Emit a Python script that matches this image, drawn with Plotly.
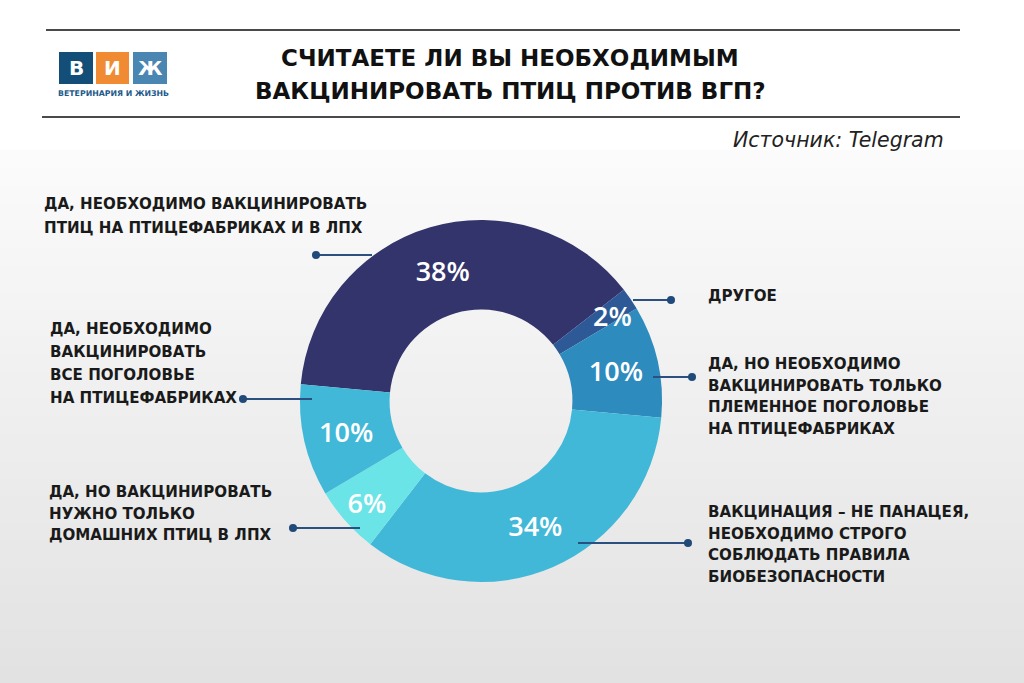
import plotly.graph_objects as go

W, H = 1024, 683

# ---- data ----
categories = [
    "Да, необходимо вакцинировать птиц на птицефабриках и в ЛПХ",
    "Другое",
    "Да, но необходимо вакцинировать только племенное поголовье на птицефабриках",
    "Вакцинация – не панацея, необходимо строго соблюдать правила биобезопасности",
    "Да, но вакцинировать нужно только домашних птиц в ЛПХ",
    "Да, необходимо вакцинировать все поголовье на птицефабриках",
]
values = [38, 2, 10, 34, 6, 10]
slice_colors = ["#32346b", "#2d5a97", "#2e8bbd", "#42b8d8", "#6be4e8", "#42b8d8"]

label_texts = [
    "ДА, НЕОБХОДИМО ВАКЦИНИРОВАТЬ<br>ПТИЦ НА ПТИЦЕФАБРИКАХ И В ЛПХ",
    "ДРУГОЕ",
    "ДА, НО НЕОБХОДИМО<br>ВАКЦИНИРОВАТЬ ТОЛЬКО<br>ПЛЕМЕННОЕ ПОГОЛОВЬЕ<br>НА ПТИЦЕФАБРИКАХ",
    "ВАКЦИНАЦИЯ – НЕ ПАНАЦЕЯ,<br>НЕОБХОДИМО СТРОГО<br>СОБЛЮДАТЬ ПРАВИЛА<br>БИОБЕЗОПАСНОСТИ",
    "ДА, НО ВАКЦИНИРОВАТЬ<br>НУЖНО ТОЛЬКО<br>ДОМАШНИХ ПТИЦ В ЛПХ",
    "ДА, НЕОБХОДИМО<br>ВАКЦИНИРОВАТЬ<br>ВСЕ ПОГОЛОВЬЕ<br>НА ПТИЦЕФАБРИКАХ",
]

title_lines = ["СЧИТАЕТЕ ЛИ ВЫ НЕОБХОДИМЫМ", "ВАКЦИНИРОВАТЬ ПТИЦ ПРОТИВ ВГП?"]
source_text = "Источник: Telegram"
logo_letters = ["В", "И", "Ж"]
logo_colors = ["#134e78", "#f08a33", "#4a86b2"]
logo_caption = "ВЕТЕРИНАРИЯ И ЖИЗНЬ"


def px(x):
    return x / W


def py(y):
    return 1 - y / H


shapes = []
annotations = []

# background gradient (white header, then light grey gradient)
n = 60
top, bot = 150, H
shapes.append(dict(type="rect", xref="paper", yref="paper", x0=0, x1=1, y0=py(top), y1=1,
                   fillcolor="#ffffff", line=dict(width=0), layer="below"))
for i in range(n):
    y0 = top + (bot - top) * i / n
    y1 = top + (bot - top) * (i + 1) / n + 1
    t = i / (n - 1)
    c = int(round(251 - t * (251 - 226)))
    shapes.append(dict(type="rect", xref="paper", yref="paper", x0=0, x1=1,
                       y0=py(min(y1, H)), y1=py(y0),
                       fillcolor=f"rgb({c},{c},{c})", line=dict(width=0), layer="below"))

# header rules
for yy, x0 in [(30, 46), (117, 42)]:
    shapes.append(dict(type="line", xref="paper", yref="paper", x0=px(x0), x1=px(960),
                       y0=py(yy), y1=py(yy), line=dict(color="#4a4a4a", width=2)))

# logo
sq = [(59, 93), (96, 129), (133, 167)]
for (a, b), col, letter in zip(sq, logo_colors, logo_letters):
    shapes.append(dict(type="rect", xref="paper", yref="paper", x0=px(a), x1=px(b),
                       y0=py(84), y1=py(52), fillcolor=col, line=dict(width=0)))
    annotations.append(dict(x=px((a + b) / 2), y=py(68.5), xref="paper", yref="paper",
                            text=f"<b>{letter}</b>", showarrow=False,
                            font=dict(family="DejaVu Sans", size=20, color="white"),
                            xanchor="center", yanchor="middle"))
annotations.append(dict(x=px(113), y=py(93), xref="paper", yref="paper",
                        text=f"<b>{logo_caption}</b>", showarrow=False,
                        font=dict(family="DejaVu Sans", size=7.8, color="#1d5a8a"),
                        xanchor="center", yanchor="middle"))

# title
for yy, line in zip([58, 91], title_lines):
    annotations.append(dict(x=px(510), y=py(yy), xref="paper", yref="paper",
                            text=f"<b>{line}</b>", showarrow=False,
                            font=dict(family="DejaVu Sans", size=23, color="#111111"),
                            xanchor="center", yanchor="middle"))

# source
annotations.append(dict(x=px(946), y=py(140), xref="paper", yref="paper",
                        text=f"<i>{source_text}</i>", showarrow=False,
                        font=dict(family="DejaVu Sans", size=20.5, color="#222222"),
                        xanchor="right", yanchor="middle"))

# category labels: (left x, first line center y, line spacing)
label_pos = [
    (42, 204, 24),
    (706, 296, 22),
    (706, 364, 21.5),
    (706, 512, 21.5),
    (47, 492, 21.7),
    (48, 329, 23),
]
for txt, (lx, ly, ls) in zip(label_texts, label_pos):
    for k, line in enumerate(txt.split("<br>")):
        annotations.append(dict(x=px(lx), y=py(ly + k * ls), xref="paper", yref="paper",
                                text=f"<b>{line}</b>", showarrow=False,
                                font=dict(family="DejaVu Sans", size=15.1, color="#1a1a1a"),
                                xanchor="left", yanchor="middle"))

# leader lines (slice end x, dot x, y)
leaders = [
    (372, 316, 255),
    (633, 671, 300),
    (653, 692, 377),
    (578, 688, 543),
    (360, 293, 528),
    (312, 243, 399),
]
for xs, xd, yy in leaders:
    shapes.append(dict(type="line", xref="paper", yref="paper", x0=px(xs), x1=px(xd),
                       y0=py(yy), y1=py(yy), line=dict(color="#2b4f7e", width=2)))
    r = 4
    shapes.append(dict(type="circle", xref="paper", yref="paper", x0=px(xd - r), x1=px(xd + r),
                       y0=py(yy + r), y1=py(yy - r), fillcolor="#1f4a7a", line=dict(width=0)))

# 2% label (slice too thin for inside text)
annotations.append(dict(x=px(612), y=py(315), xref="paper", yref="paper",
                        text=f"{values[1]}%", showarrow=False,
                        font=dict(family="Open Sans", size=27, color="white", weight=600),
                        xanchor="center", yanchor="middle"))

cx, cy, R = 481, 401, 181
textpos = ["inside", "none", "inside", "inside", "inside", "inside"]
fig = go.Figure(go.Pie(
    labels=categories,
    values=values,
    marker=dict(colors=slice_colors, line=dict(width=0)),
    hole=0.505,
    sort=False,
    direction="clockwise",
    rotation=-84.7,
    texttemplate="%{value}%",
    textposition=textpos,
    insidetextorientation="horizontal",
    textfont=dict(family="Open Sans", size=27, color="white", weight=600),
    hoverinfo="skip",
    domain=dict(x=[px(cx - R), px(cx + R)], y=[py(cy + R), py(cy - R)]),
    showlegend=False,
))

fig.update_layout(
    width=W, height=H,
    margin=dict(l=0, r=0, t=0, b=0),
    paper_bgcolor="#ffffff",
    plot_bgcolor="rgba(0,0,0,0)",
    shapes=shapes,
    annotations=annotations,
    showlegend=False,
)

fig.write_html("out.html")
